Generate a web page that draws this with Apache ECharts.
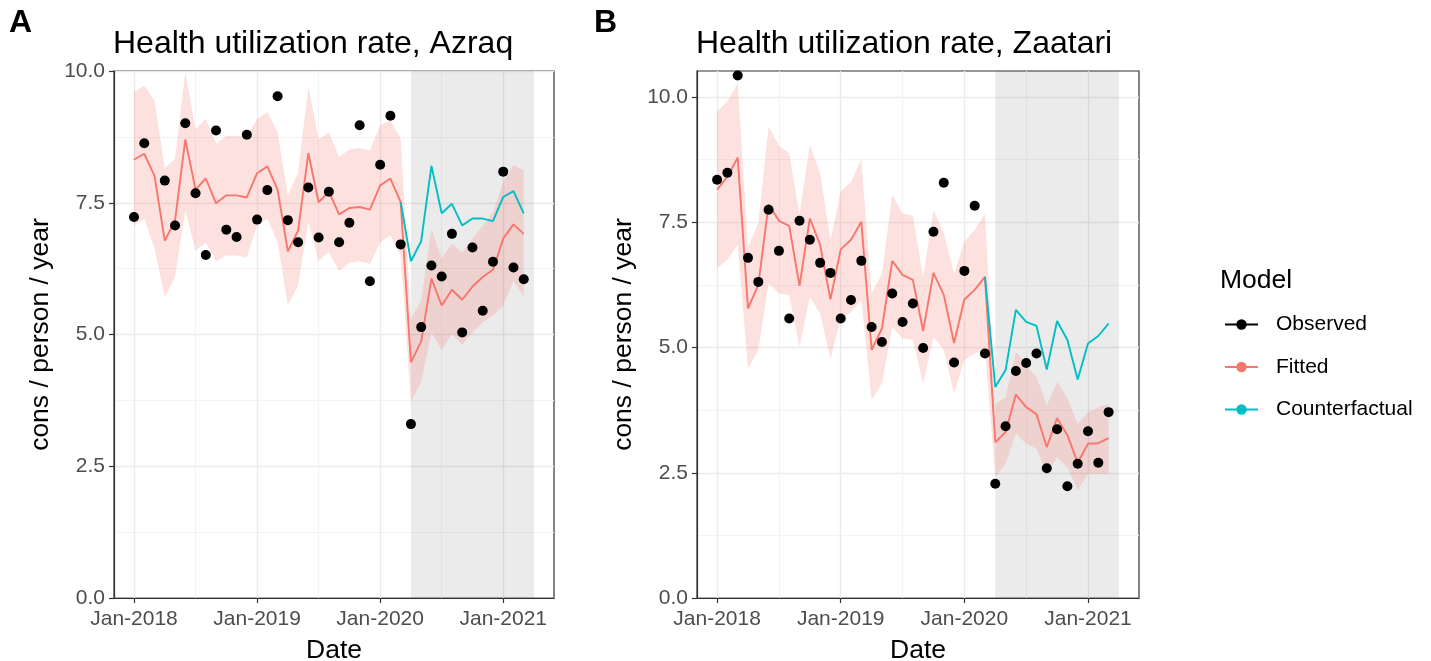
<!DOCTYPE html>
<html lang="en">
<head>
<meta charset="UTF-8">
<title>Health utilization rate</title>
<script src="https://cdn.jsdelivr.net/npm/echarts@6.0.0/dist/echarts.min.js"></script>
<style>
  body { margin: 0; background: #fff; }
  #main { width: 1431px; height: 661px; }
</style>
</head>
<body>
<div id="main"></div>
<script>
// x = months since Jan-2018 (0 .. 38 = Mar-2021)
var tickPos = [0, 12, 24, 36];
var tickLabels = ['Jan-2018', 'Jan-2019', 'Jan-2020', 'Jan-2021'];
var minorPos = [6, 18, 30];
var yTicks = [0, 2.5, 5, 7.5, 10];
var yMinor = [1.25, 3.75, 6.25, 8.75];
var shadeFrom = 27, shadeTo = 39;   // Apr-2020 .. Apr-2021
var cfStart = 26;                   // counterfactual starts at Mar-2020

// Azraq
var obsA = [7.23, 8.63, null, 7.92, 7.07, 9.01, 7.68, 6.51, 8.87, 6.99, 6.85, 8.79,
            7.18, 7.74, 9.52, 7.17, 6.75, 7.79, 6.84, 7.71, 6.75, 7.12, 8.97, 6.01,
            8.22, 9.15, 6.71, 3.30, 5.14, 6.31, 6.10, 6.91, 5.04, 6.65, 5.45, 6.38,
            8.09, 6.27, 6.05];
var fitA = [8.32, 8.43, 8.01, 6.78, 7.16, 8.70, 7.75, 7.96, 7.49, 7.64, 7.64, 7.60,
            8.06, 8.19, 7.75, 6.58, 6.97, 8.44, 7.51, 7.71, 7.28, 7.40, 7.42, 7.37,
            7.83, 7.96, 7.51, 4.47, 4.87, 6.06, 5.55, 5.85, 5.66, 5.91, 6.09, 6.23,
            6.82, 7.09, 6.91];
var hiA = [9.60, 9.72, 9.44, 8.15, 8.34, 9.98, 8.90, 9.09, 8.62, 8.77, 8.77, 8.75,
           9.09, 9.22, 8.84, 7.64, 8.08, 9.70, 8.70, 8.84, 8.37, 8.51, 8.54, 8.49,
           8.97, 9.06, 8.71, 5.30, 5.65, 7.00, 6.44, 6.72, 6.56, 6.82, 7.07, 7.32,
           7.89, 8.22, 8.11];
var loA = [7.07, 7.20, 6.63, 5.71, 6.09, 7.35, 6.59, 6.75, 6.39, 6.50, 6.50, 6.46,
           7.07, 7.20, 6.75, 5.56, 5.93, 7.13, 6.40, 6.56, 6.20, 6.36, 6.39, 6.34,
           6.75, 6.88, 6.50, 3.72, 4.10, 5.04, 4.70, 5.01, 4.80, 5.04, 5.23, 5.36,
           5.55, 6.02, 5.71];
var cfA = [7.51, 6.39, 6.77, 8.20, 7.30, 7.48, 7.07, 7.20, 7.20, 7.15, 7.61, 7.72, 7.30];

// Zaatari
var obsB = [8.35, 8.49, 10.43, 6.79, 6.31, 7.75, 6.93, 5.58, 7.53, 7.15, 6.69, 6.49,
            5.58, 5.95, 6.73, 5.41, 5.11, 6.08, 5.51, 5.88, 4.99, 7.31, 8.29, 4.70,
            6.53, 7.83, 4.88, 2.28, 3.43, 4.53, 4.69, 4.88, 2.59, 3.37, 2.23, 2.68,
            3.33, 2.70, 3.71];
var fitB = [8.15, 8.41, 8.79, 5.78, 6.25, 7.86, 7.53, 7.43, 6.23, 7.58, 7.05, 5.96,
            6.96, 7.15, 7.51, 4.95, 5.38, 6.73, 6.45, 6.35, 5.33, 6.49, 6.05, 5.09,
            5.96, 6.15, 6.41, 3.11, 3.31, 4.06, 3.81, 3.67, 3.01, 3.59, 3.25, 2.70,
            3.08, 3.09, 3.19];
var hiB = [9.71, 9.91, 10.28, 7.01, 7.48, 9.41, 9.03, 8.88, 7.65, 9.05, 8.48, 7.15,
           8.11, 8.31, 8.76, 6.08, 6.48, 8.05, 7.68, 7.63, 6.41, 7.75, 7.28, 6.48,
           7.11, 7.35, 7.67, 3.88, 4.01, 4.91, 4.65, 4.41, 3.85, 4.31, 3.98, 3.48,
           3.71, 3.81, 3.88];
var loB = [6.58, 6.75, 7.05, 4.58, 4.95, 6.28, 6.08, 6.05, 5.01, 6.01, 5.68, 4.78,
           5.55, 5.71, 5.95, 3.95, 4.28, 5.41, 5.18, 5.15, 4.28, 5.21, 4.95, 4.08,
           4.75, 4.88, 4.98, 2.41, 2.68, 3.28, 3.08, 2.98, 2.48, 2.81, 2.61, 2.15,
           2.48, 2.48, 2.48];
var cfB = [6.41, 4.21, 4.55, 5.75, 5.51, 5.43, 4.56, 5.53, 5.15, 4.36, 5.08, 5.23, 5.48];

var FONT = 'Liberation Sans, Arial, sans-serif';
var RED = '#F8766D', TEAL = '#00BFC4';

function pts(arr, start) {
    return arr.map(function (v, i) { return [i + start, v]; });
}

function mainX(grid) {
    return {
        type: 'value', gridIndex: grid, min: -1.95, max: 40.95,
        name: 'Date', nameLocation: 'middle', nameGap: 39,
        nameTextStyle: { fontSize: 26.5, color: '#000', fontFamily: FONT },
        axisLine: { show: true, onZero: false, lineStyle: { color: '#333', width: 1.2 } },
        axisTick: { show: true, length: 5, customValues: tickPos, lineStyle: { color: '#333', width: 1.2 } },
        axisLabel: {
            customValues: tickPos, margin: 11, fontSize: 21, color: '#4d4d4d', fontFamily: FONT,
            formatter: function (v) { return tickLabels[tickPos.indexOf(v)]; }
        },
        splitLine: { show: true, lineStyle: { color: '#ebebeb', width: 1.4 } }
    };
}
function minorX(grid) {
    return {
        type: 'value', gridIndex: grid, min: -1.95, max: 40.95,
        axisLine: { show: false }, axisLabel: { show: false },
        axisTick: { show: false, customValues: minorPos },
        splitLine: { show: true, lineStyle: { color: '#f3f3f3', width: 1 } }
    };
}
function mainY(grid, max) {
    return {
        type: 'value', gridIndex: grid, min: 0, max: max,
        name: 'cons / person / year', nameLocation: 'middle', nameGap: 60,
        nameTextStyle: { fontSize: 26.5, color: '#000', fontFamily: FONT },
        axisLine: { show: true, onZero: false, lineStyle: { color: '#333', width: 1.2 } },
        axisTick: { show: true, length: 5, customValues: yTicks, lineStyle: { color: '#333', width: 1.2 } },
        axisLabel: {
            customValues: yTicks, margin: 9, fontSize: 21, color: '#4d4d4d', fontFamily: FONT,
            formatter: function (v) { return v.toFixed(1); }
        },
        splitLine: { show: true, lineStyle: { color: '#ebebeb', width: 1.4 } }
    };
}
function minorY(grid, max) {
    return {
        type: 'value', gridIndex: grid, min: 0, max: max,
        axisLine: { show: false }, axisLabel: { show: false },
        axisTick: { show: false, customValues: yMinor },
        splitLine: { show: true, lineStyle: { color: '#f3f3f3', width: 1 } }
    };
}

function panelSeries(ax, obs, fit, lo, hi, cf) {
    return [
        {   // confidence ribbon + intervention shading
            type: 'custom', xAxisIndex: ax, yAxisIndex: ax, silent: true, z: 1,
            data: lo.map(function (v, i) { return [i, v, hi[i]]; }),
            encode: { x: 0, y: [1, 2] },
            renderItem: function (params, api) {
                if (params.dataIndex !== 0) return null;
                var top = hi.map(function (v, i) { return api.coord([i, v]); });
                var bot = lo.map(function (v, i) { return api.coord([i, v]); }).reverse();
                return { type: 'polygon', shape: { points: top.concat(bot) },
                         style: { fill: 'rgba(248,118,109,0.22)' } };
            },
            markArea: {
                silent: true,
                itemStyle: { color: 'rgba(0,0,0,0.078)' },
                data: [[{ xAxis: shadeFrom }, { xAxis: shadeTo }]]
            }
        },
        {
            name: 'Fitted', type: 'line', xAxisIndex: ax, yAxisIndex: ax, z: 3,
            data: pts(fit, 0), symbol: 'circle', showSymbol: false,
            itemStyle: { color: RED }, lineStyle: { color: RED, width: 1.9 }
        },
        {
            name: 'Counterfactual', type: 'line', xAxisIndex: ax, yAxisIndex: ax, z: 3,
            data: pts(cf, cfStart), symbol: 'circle', showSymbol: false,
            itemStyle: { color: TEAL }, lineStyle: { color: TEAL, width: 1.9 }
        },
        {
            name: 'Observed', type: 'line', xAxisIndex: ax, yAxisIndex: ax, z: 4,
            data: pts(obs, 0), symbol: 'circle', symbolSize: 10, showSymbol: true,
            itemStyle: { color: '#000' }, lineStyle: { color: '#000', width: 1.9, opacity: 0 }
        }
    ];
}

var chart = echarts.init(document.getElementById('main'));
chart.setOption({
    animation: false,
    textStyle: { fontFamily: FONT },
    title: [
        { text: 'A', left: 9, top: 7, padding: 0, textStyle: { fontSize: 32, fontWeight: 'bold', color: '#000', fontFamily: FONT } },
        { text: 'Health utilization rate, Azraq', left: 113, top: 28, padding: 0, textStyle: { fontSize: 32, fontWeight: 'normal', color: '#000', fontFamily: FONT } },
        { text: 'B', left: 594, top: 7, padding: 0, textStyle: { fontSize: 32, fontWeight: 'bold', color: '#000', fontFamily: FONT } },
        { text: 'Health utilization rate, Zaatari', left: 696, top: 28, padding: 0, textStyle: { fontSize: 32, fontWeight: 'normal', color: '#000', fontFamily: FONT } },
        { text: 'Model', left: 1220, top: 267, padding: 0, textStyle: { fontSize: 26.5, fontWeight: 'normal', color: '#000', fontFamily: FONT } }
    ],
    legend: {
        orient: 'vertical', left: 1224, top: 314, padding: 0,
        itemWidth: 33, itemHeight: 13, itemGap: 21.5, selectedMode: false,
        textStyle: { fontSize: 21, color: '#000', fontFamily: FONT, padding: [0, 0, 0, 13] },
        data: [
            { name: 'Observed', lineStyle: { color: '#000', width: 1.9, opacity: 1 } },
            'Fitted', 'Counterfactual'
        ]
    },
    grid: [
        { left: 114, top: 71, width: 440, height: 527, outerBoundsMode: 'none', show: true, borderColor: '#333', borderWidth: 1.2, backgroundColor: 'transparent' },
        { left: 697, top: 71, width: 442, height: 527, outerBoundsMode: 'none', show: true, borderColor: '#333', borderWidth: 1.2, backgroundColor: 'transparent' }
    ],
    xAxis: [mainX(0), minorX(0), mainX(1), minorX(1)],
    yAxis: [mainY(0, 10), minorY(0, 10), mainY(1, 10.52), minorY(1, 10.52)],
    series: []
        .concat(panelSeries(0, obsA, fitA, loA, hiA, cfA))
        .concat(panelSeries(2, obsB, fitB, loB, hiB, cfB))
});
</script>
</body>
</html>
